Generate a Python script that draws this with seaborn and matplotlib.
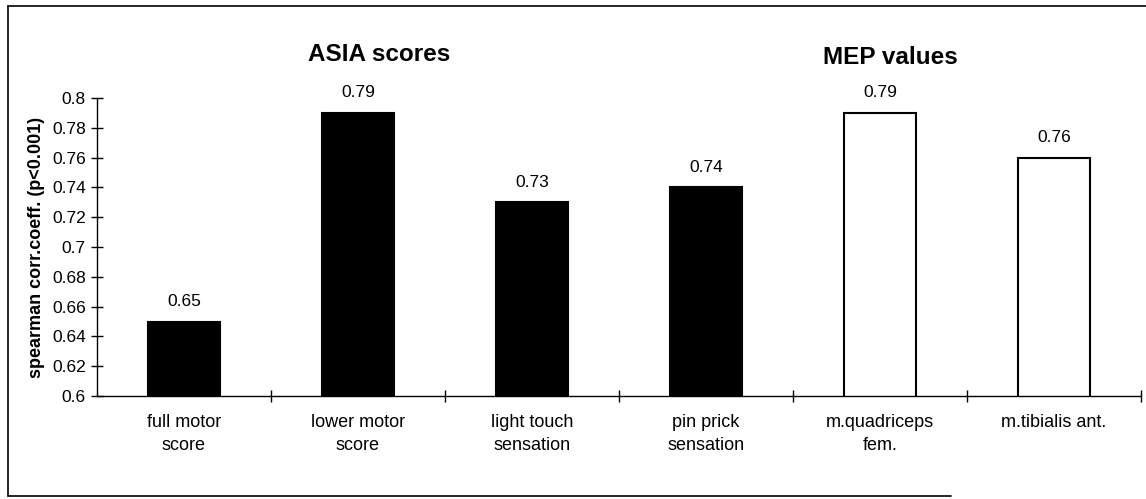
import matplotlib
matplotlib.use("Agg")
import matplotlib.pyplot as plt
import seaborn as sns
from matplotlib.lines import Line2D
from matplotlib.ticker import FixedLocator

categories = ["full motor\nscore", "lower motor\nscore", "light touch\nsensation",
              "pin prick\nsensation", "m.quadriceps\nfem.", "m.tibialis ant."]
values = [0.65, 0.79, 0.73, 0.74, 0.79, 0.76]
fills = ["black", "black", "black", "black", "white", "white"]
yticks = [0.6, 0.62, 0.64, 0.66, 0.68, 0.7, 0.72, 0.74, 0.76, 0.78, 0.8]
groups = ["ASIA scores", "MEP values"]

sns.set_style("white")
plt.rcParams["font.family"] = ["Liberation Sans", "DejaVu Sans"]
for key in ["text.color", "axes.labelcolor", "xtick.color", "ytick.color"]:
    plt.rcParams[key] = "black"

fig = plt.figure(figsize=(11.46, 4.99), dpi=100)
ax = fig.add_axes([0.0846, 0.2064, 0.911, 0.597])

sns.barplot(x=categories, y=values, hue=categories, palette=fills, legend=False,
            edgecolor="black", linewidth=1.5, width=0.41, ax=ax)

ax.set_ylim(0.6, 0.8)
ax.set_xlim(-0.5, len(categories) - 0.5)
ax.set_yticks(yticks)
ax.set_yticklabels([f"{t:g}" for t in yticks], fontsize=12.5)
ax.tick_params(axis="y", direction="inout", length=8, width=1, left=True, pad=4)
ax.tick_params(axis="x", which="major", length=0, pad=13)
ax.set_xticks(range(len(categories)))
ax.set_xticklabels(categories, fontsize=13, linespacing=1.45)
ax.xaxis.set_minor_locator(FixedLocator([i + 0.5 for i in range(len(categories))]))
ax.tick_params(axis="x", which="minor", direction="inout", length=8, width=1, bottom=True)

ax.set_ylabel("spearman corr.coeff. (p<0.001)", fontsize=13, fontweight="bold", labelpad=5)
sns.despine(ax=ax, top=True, right=True)
for s in ["left", "bottom"]:
    ax.spines[s].set_color("black")
    ax.spines[s].set_linewidth(1)

for i, v in enumerate(values):
    ax.annotate(f"{v:g}", (i, v), xytext=(0, 9), textcoords="offset points",
                ha="center", va="bottom", fontsize=12.5)

ax.text(1.12, 0.829, groups[0], ha="center", va="center", fontsize=17.5, fontweight="bold")
ax.text(4.06, 0.827, groups[1], ha="center", va="center", fontsize=17.5, fontweight="bold")

# frame around the figure
fig.add_artist(Line2D([0.007, 0.007], [0.006, 0.988], color="black", lw=1.2))
fig.add_artist(Line2D([0.007, 1.0], [0.988, 0.988], color="black", lw=1.2))
fig.add_artist(Line2D([0.007, 0.83], [0.006, 0.006], color="black", lw=1.2))

fig.savefig("out.png", dpi=100)
